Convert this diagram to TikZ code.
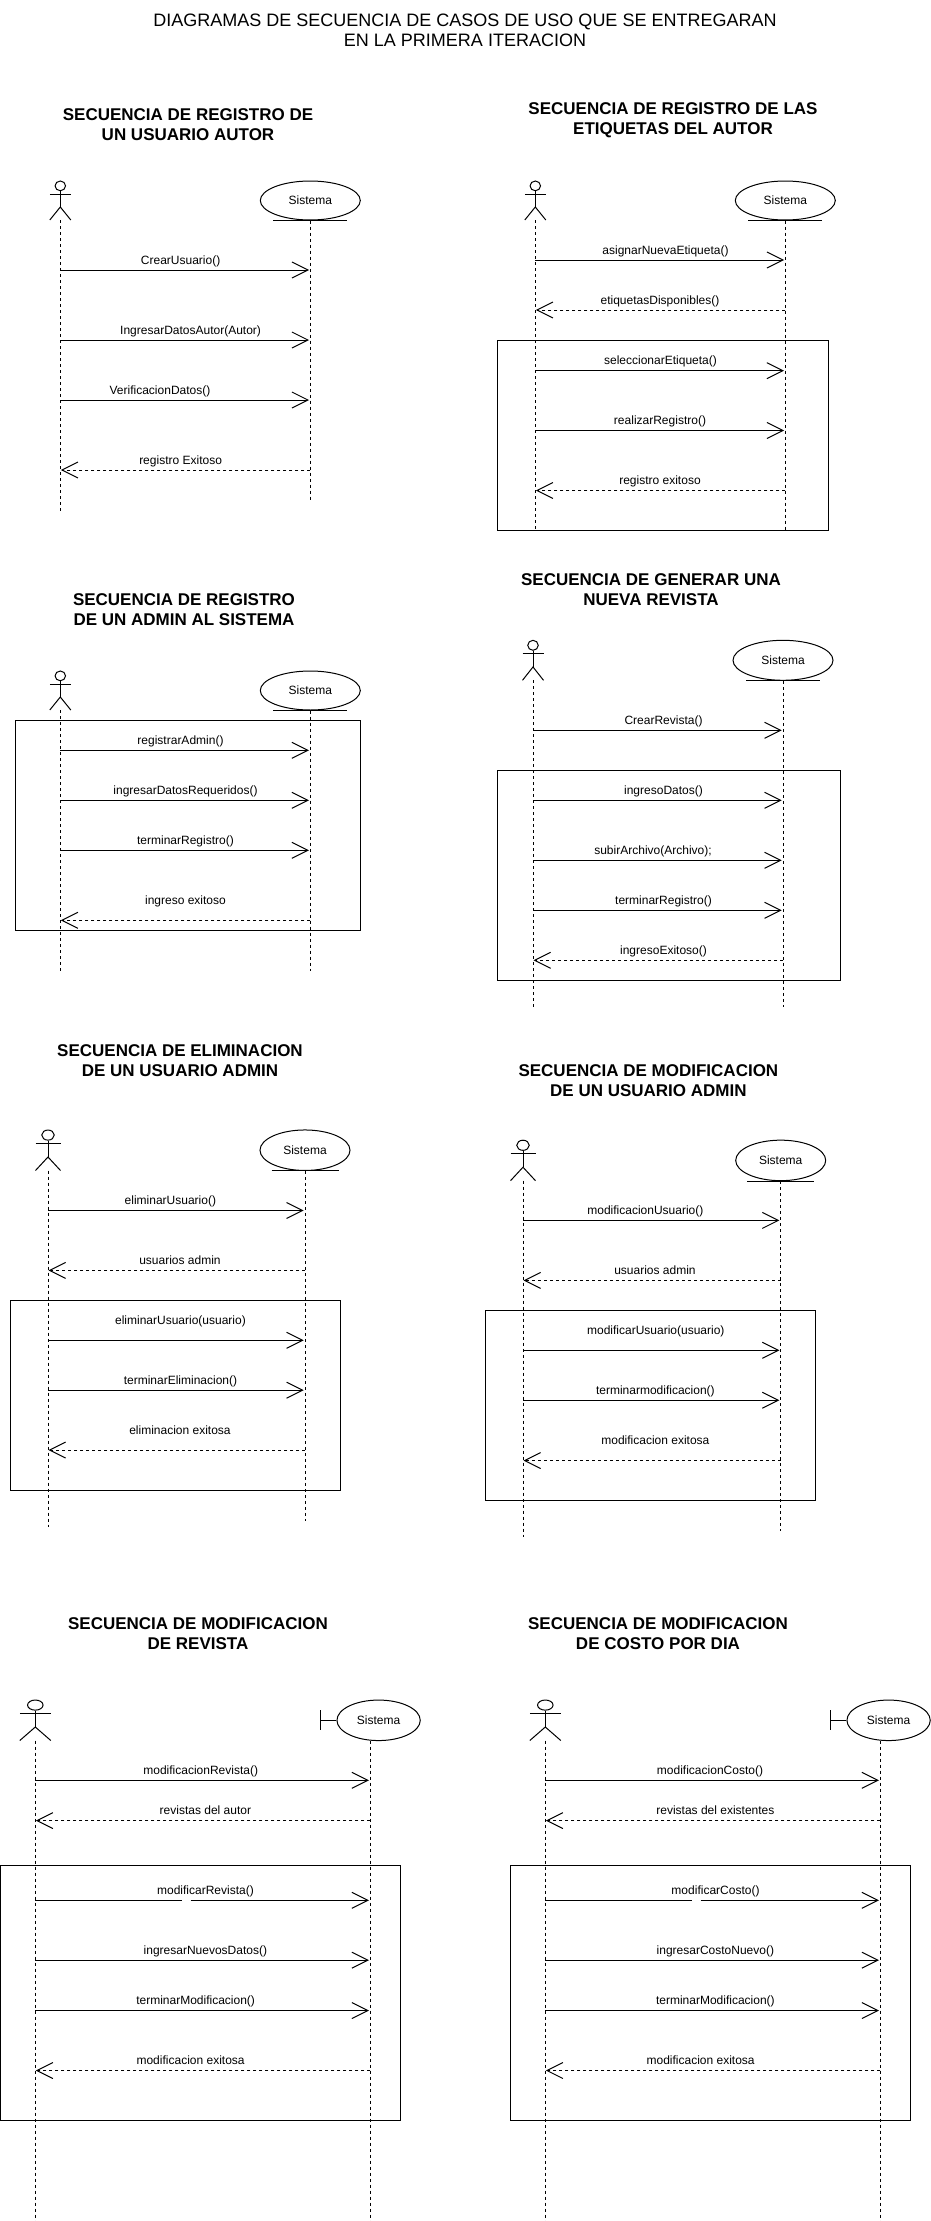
\documentclass[tikz,border=0pt]{standalone}
\usepackage{fontspec}
\setmainfont{Liberation Sans}
\usetikzlibrary{arrows.meta,shapes.geometric}

\tikzset{
    pagetitle/.style={align=center,inner sep=0pt,font=\fontsize{18}{20}\selectfont},
    seqtitle/.style={align=center,inner sep=0pt,font=\fontsize{17}{20}\selectfont\bfseries},
    msglabel/.style={inner sep=0pt,text height=9pt,text depth=3pt,yshift=-0.5pt,font=\fontsize{12}{14}\selectfont},
    sysnode/.style={draw,ellipse,inner sep=0pt,font=\fontsize{12}{14}\selectfont},
    lifeline/.style={dash pattern=on 3pt off 3pt},
    msgcall/.style={-{Straight Barb[length=16pt,width=16pt]},shorten >=1.3pt},
    msgback/.style={-{Straight Barb[length=16pt,width=16pt]},shorten >=0.5pt,dash pattern=on 3pt off 3pt},
    groupbox/.style={draw,line width=1pt}
}

% name, x, top, width, height
\newcommand{\actorfig}[5]{
    \node[draw,ellipse,inner sep=0pt,minimum width=#4*0.5pt,minimum height=#5*0.25pt] (#1head) at (#2,#3+#5/8) {};
    \coordinate (#1hip) at (#2,#3+#5*2/3);
    \coordinate (#1larm) at (#2-#4/2,#3+#5/3);
    \coordinate (#1rarm) at (#2+#4/2,#3+#5/3);
    \coordinate (#1lfoot) at (#2-#4/2,#3+#5);
    \coordinate (#1rfoot) at (#2+#4/2,#3+#5);
    \coordinate (#1foot) at (#2,#3+#5);
    \draw (#1head.south) -- (#1hip);
    \draw (#1larm) -- (#1rarm);
    \draw (#1lfoot) -- (#1hip) -- (#1rfoot);
}

\begin{document}
\begin{tikzpicture}[x=1pt,y=-1pt,line width=1pt]
    \useasboundingbox[fill=white] (0,0) rectangle (931,2221);

    % Page title
    \node[pagetitle] (pagehead) at (465,30) {DIAGRAMAS DE SECUENCIA DE CASOS DE USO QUE SE ENTREGARAN\\EN LA PRIMERA ITERACION};

    % Registro de un usuario autor
    \node[seqtitle] (t1) at (188,125) {SECUENCIA DE REGISTRO DE\\UN USUARIO AUTOR};
    \actorfig{a1}{60.3}{181}{21}{39}
    \node[sysnode,minimum width=100pt,minimum height=39pt] (s1) at (310.3,200.5) {Sistema};
    \draw ([xshift=-37pt]s1.south) -- ([xshift=37pt]s1.south);
    \coordinate (a1end) at (60.3,511);
    \coordinate (s1end) at (310.3,500);
    \draw[lifeline] (a1foot) -- (a1end);
    \draw[lifeline] (s1.south) -- (s1end);
    \coordinate (a11) at (60.3,270); \coordinate (s11) at (310.3,270);
    \draw[msgcall] (a11) -- (s11);
    \node[msglabel] (m11) at (180.6,261) {CrearUsuario()};
    \coordinate (a12) at (60.3,340); \coordinate (s12) at (310.3,340);
    \draw[msgcall] (a12) -- (s12);
    \node[msglabel] (m12) at (190.6,331) {IngresarDatosAutor(Autor)};
    \coordinate (a13) at (60.3,400); \coordinate (s13) at (310.3,400);
    \draw[msgcall] (a13) -- (s13);
    \node[msglabel] (m13) at (160,391) {VerificacionDatos()};
    \coordinate (a14) at (60.3,470); \coordinate (s14) at (310.3,470);
    \draw[msgback] (s14) -- (a14);
    \node[msglabel] (m14) at (180.6,461) {registro Exitoso};

    % Registro de las etiquetas del autor
    \node[seqtitle] (t2) at (673,120) {SECUENCIA DE REGISTRO DE LAS\\ETIQUETAS DEL AUTOR};
    \actorfig{a2}{535.3}{181}{21}{39}
    \node[sysnode,minimum width=100pt,minimum height=39pt] (s2) at (785.3,200.5) {Sistema};
    \draw ([xshift=-37pt]s2.south) -- ([xshift=37pt]s2.south);
    \node[groupbox,minimum width=330.3pt,minimum height=190pt] (g2) at (662.85,435.3) {};
    \coordinate (a2end) at (535.3,530);
    \coordinate (s2end) at (785.3,530);
    \draw[lifeline] (a2foot) -- (a2end);
    \draw[lifeline] (s2.south) -- (s2end);
    \coordinate (a21) at (535.3,260); \coordinate (s21) at (785.3,260);
    \draw[msgcall] (a21) -- (s21);
    \node[msglabel] (m21) at (665.5,251) {asignarNuevaEtiqueta()};
    \coordinate (a22) at (535.3,310); \coordinate (s22) at (785.3,310);
    \draw[msgback] (s22) -- (a22);
    \node[msglabel] (m22) at (660,301) {etiquetasDisponibles()};
    \coordinate (a23) at (535.3,370.7); \coordinate (s23) at (785.3,370.7);
    \draw[msgcall] (a23) -- (s23);
    \node[msglabel] (m23) at (660.5,361) {seleccionarEtiqueta()};
    \coordinate (a24) at (535.3,430.5); \coordinate (s24) at (785.3,430.5);
    \draw[msgcall] (a24) -- (s24);
    \node[msglabel] (m24) at (660,421) {realizarRegistro()};
    \coordinate (a25) at (535.3,490.5); \coordinate (s25) at (785.3,490.5);
    \draw[msgback] (s25) -- (a25);
    \node[msglabel] (m25) at (660,481) {registro exitoso};

    % Registro de un admin
    \node[seqtitle] (t3) at (184,610) {SECUENCIA DE REGISTRO\\DE UN ADMIN AL SISTEMA};
    \actorfig{a3}{60.3}{671}{21}{39}
    \node[sysnode,minimum width=100pt,minimum height=39pt] (s3) at (310.3,690.5) {Sistema};
    \draw ([xshift=-37pt]s3.south) -- ([xshift=37pt]s3.south);
    \node[groupbox,minimum width=345pt,minimum height=210pt] (g3) at (188,825.3) {};
    \coordinate (a3end) at (60.3,971);
    \coordinate (s3end) at (310.3,971);
    \draw[lifeline] (a3foot) -- (a3end);
    \draw[lifeline] (s3.south) -- (s3end);
    \coordinate (a31) at (60.3,750.3); \coordinate (s31) at (310.3,750.3);
    \draw[msgcall] (a31) -- (s31);
    \node[msglabel] (m31) at (180.5,741) {registrarAdmin()};
    \coordinate (a32) at (60.3,800.3); \coordinate (s32) at (310.3,800.3);
    \draw[msgcall] (a32) -- (s32);
    \node[msglabel] (m32) at (185.5,791) {ingresarDatosRequeridos()};
    \coordinate (a33) at (60.3,850.3); \coordinate (s33) at (310.3,850.3);
    \draw[msgcall] (a33) -- (s33);
    \node[msglabel] (m33) at (185.5,841) {terminarRegistro()};
    \coordinate (a34) at (60.3,920.3); \coordinate (s34) at (310.3,920.3);
    \draw[msgback] (s34) -- (a34);
    \node[msglabel] (m34) at (185.5,901) {ingreso exitoso};

    % Generar una nueva revista
    \node[seqtitle] (t4) at (651,590) {SECUENCIA DE GENERAR UNA\\NUEVA REVISTA};
    \actorfig{a4}{533}{640.3}{21}{40}
    \node[sysnode,minimum width=100pt,minimum height=40pt] (s4) at (783,660.3) {Sistema};
    \draw ([xshift=-37pt]s4.south) -- ([xshift=37pt]s4.south);
    \node[groupbox,minimum width=343pt,minimum height=210pt] (g4) at (669.2,875.2) {};
    \coordinate (a4end) at (533,1007);
    \coordinate (s4end) at (783,1007);
    \draw[lifeline] (a4foot) -- (a4end);
    \draw[lifeline] (s4.south) -- (s4end);
    \coordinate (a41) at (533,730.3); \coordinate (s41) at (783,730.3);
    \draw[msgcall] (a41) -- (s41);
    \node[msglabel] (m41) at (663.5,720.7) {CrearRevista()};
    \coordinate (a42) at (533,800.3); \coordinate (s42) at (783,800.3);
    \draw[msgcall] (a42) -- (s42);
    \node[msglabel] (m42) at (663.5,790.7) {ingresoDatos()};
    \coordinate (a43) at (533,860.3); \coordinate (s43) at (783,860.3);
    \draw[msgcall] (a43) -- (s43);
    \node[msglabel] (m43) at (653,850.7) {subirArchivo(Archivo);};
    \coordinate (a44) at (533,910.3); \coordinate (s44) at (783,910.3);
    \draw[msgcall] (a44) -- (s44);
    \node[msglabel] (m44) at (663.5,900.7) {terminarRegistro()};
    \coordinate (a45) at (533,960.3); \coordinate (s45) at (783,960.3);
    \draw[msgback] (s45) -- (a45);
    \node[msglabel] (m45) at (663.5,950.7) {ingresoExitoso()};

    % Eliminacion de un usuario admin
    \node[seqtitle] (t5) at (180,1060.3) {SECUENCIA DE ELIMINACION\\DE UN USUARIO ADMIN};
    \actorfig{a5}{48}{1130}{25}{40.5}
    \node[sysnode,minimum width=90pt,minimum height=40.5pt] (s5) at (305,1150.2) {Sistema};
    \draw ([xshift=-33.5pt]s5.south) -- ([xshift=33.5pt]s5.south);
    \node[groupbox,minimum width=330pt,minimum height=190pt] (g5) at (175.7,1395.3) {};
    \coordinate (a5end) at (48,1527);
    \coordinate (s5end) at (305,1521);
    \draw[lifeline] (a5foot) -- (a5end);
    \draw[lifeline] (s5.south) -- (s5end);
    \coordinate (a51) at (48,1210.5); \coordinate (s51) at (305,1210.5);
    \draw[msgcall] (a51) -- (s51);
    \node[msglabel] (m51) at (170.4,1201) {eliminarUsuario()};
    \coordinate (a52) at (48,1270.4); \coordinate (s52) at (305,1270.4);
    \draw[msgback] (s52) -- (a52);
    \node[msglabel] (m52) at (180,1260.7) {usuarios admin};
    \coordinate (a53) at (48,1340.3); \coordinate (s53) at (305,1340.3);
    \draw[msgcall] (a53) -- (s53);
    \node[msglabel] (m53) at (180.5,1321) {eliminarUsuario(usuario)};
    \coordinate (a54) at (48,1390.2); \coordinate (s54) at (305,1390.2);
    \draw[msgcall] (a54) -- (s54);
    \node[msglabel] (m54) at (180.5,1381) {terminarEliminacion()};
    \coordinate (a55) at (48,1450); \coordinate (s55) at (305,1450);
    \draw[msgback] (s55) -- (a55);
    \node[msglabel] (m55) at (180,1431) {eliminacion exitosa};

    % Modificacion de un usuario admin
    \node[seqtitle] (t6) at (648.4,1080.3) {SECUENCIA DE MODIFICACION\\DE UN USUARIO ADMIN};
    \actorfig{a6}{523}{1140.2}{25}{40.5}
    \node[sysnode,minimum width=90pt,minimum height=40.5pt] (s6) at (780.7,1160.4) {Sistema};
    \draw ([xshift=-33.5pt]s6.south) -- ([xshift=33.5pt]s6.south);
    \node[groupbox,minimum width=330pt,minimum height=190pt] (g6) at (650.3,1405.3) {};
    \coordinate (a6end) at (523,1537);
    \coordinate (s6end) at (780.7,1531);
    \draw[lifeline] (a6foot) -- (a6end);
    \draw[lifeline] (s6.south) -- (s6end);
    \coordinate (a61) at (523,1220.4); \coordinate (s61) at (780.7,1220.4);
    \draw[msgcall] (a61) -- (s61);
    \node[msglabel] (m61) at (645.4,1210.8) {modificacionUsuario()};
    \coordinate (a62) at (523,1280.4); \coordinate (s62) at (780.7,1280.4);
    \draw[msgback] (s62) -- (a62);
    \node[msglabel] (m62) at (655,1270.7) {usuarios admin};
    \coordinate (a63) at (523,1350.3); \coordinate (s63) at (780.7,1350.3);
    \draw[msgcall] (a63) -- (s63);
    \node[msglabel] (m63) at (655.8,1331) {modificarUsuario(usuario)};
    \coordinate (a64) at (523,1400.2); \coordinate (s64) at (780.7,1400.2);
    \draw[msgcall] (a64) -- (s64);
    \node[msglabel] (m64) at (655.4,1391) {terminarmodificacion()};
    \coordinate (a65) at (523,1460.5); \coordinate (s65) at (780.7,1460.5);
    \draw[msgback] (s65) -- (a65);
    \node[msglabel] (m65) at (655.4,1441) {modificacion exitosa};

    % Modificacion de revista
    \node[seqtitle] (t7) at (198,1634) {SECUENCIA DE MODIFICACION\\DE REVISTA};
    \actorfig{a7}{35.3}{1700}{31}{40.5}
    \node[sysnode,minimum width=83.3pt,minimum height=40.5pt] (s7) at (378.6,1720.3) {Sistema};
    \coordinate (b7top) at (320.6,1710);
    \coordinate (b7bot) at (320.6,1730);
    \coordinate (b7mid) at (320.6,1720.3);
    \draw (b7top) -- (b7bot);
    \draw (b7mid) -- (s7.west);
    \node[groupbox,minimum width=400pt,minimum height=255pt] (g7) at (200.7,1992.85) {};
    \coordinate (s7start) at (370.3,1740.5);
    \coordinate (a7end) at (35.3,2221);
    \coordinate (s7end) at (370.3,2221);
    \draw[lifeline] (a7foot) -- (a7end);
    \draw[lifeline] (s7start) -- (s7end);
    \coordinate (a71) at (35.3,1780.3); \coordinate (s71) at (370.3,1780.3);
    \draw[msgcall] (a71) -- (s71);
    \node[msglabel] (m71) at (200.7,1771) {modificacionRevista()};
    \coordinate (a72) at (35.3,1820.6); \coordinate (s72) at (370.3,1820.6);
    \draw[msgback] (s72) -- (a72);
    \node[msglabel] (m72) at (205.4,1811) {revistas del autor};
    % this call has a small break in its line
    \coordinate (a73) at (35.3,1900.3); \coordinate (s73) at (370.3,1900.3);
    \coordinate (c73) at (181.7,1900.3); \coordinate (d73) at (190.7,1900.3);
    \draw (a73) -- (c73);
    \draw[msgcall] (d73) -- (s73);
    \node[msglabel] (m73) at (205.5,1891) {modificarRevista()};
    \coordinate (a74) at (35.3,1960.2); \coordinate (s74) at (370.3,1960.2);
    \draw[msgcall] (a74) -- (s74);
    \node[msglabel] (m74) at (205.4,1951) {ingresarNuevosDatos()};
    \coordinate (a75) at (35.3,2010.5); \coordinate (s75) at (370.3,2010.5);
    \draw[msgcall] (a75) -- (s75);
    \node[msglabel] (m75) at (195.6,2001) {terminarModificacion()};
    \coordinate (a76) at (35.3,2070.5); \coordinate (s76) at (370.3,2070.5);
    \draw[msgback] (s76) -- (a76);
    \node[msglabel] (m76) at (190.6,2061) {modificacion exitosa};

    % Modificacion de costo por dia
    \node[seqtitle] (t8) at (658,1634) {SECUENCIA DE MODIFICACION\\DE COSTO POR DIA};
    \actorfig{a8}{545.3}{1700}{31}{40.5}
    \node[sysnode,minimum width=83.3pt,minimum height=40.5pt] (s8) at (888.6,1720.3) {Sistema};
    \coordinate (b8top) at (830.6,1710);
    \coordinate (b8bot) at (830.6,1730);
    \coordinate (b8mid) at (830.6,1720.3);
    \draw (b8top) -- (b8bot);
    \draw (b8mid) -- (s8.west);
    \node[groupbox,minimum width=400pt,minimum height=255pt] (g8) at (710.7,1992.85) {};
    \coordinate (s8start) at (880.3,1740.5);
    \coordinate (a8end) at (545.3,2221);
    \coordinate (s8end) at (880.3,2221);
    \draw[lifeline] (a8foot) -- (a8end);
    \draw[lifeline] (s8start) -- (s8end);
    \coordinate (a81) at (545.3,1780.3); \coordinate (s81) at (880.3,1780.3);
    \draw[msgcall] (a81) -- (s81);
    \node[msglabel] (m81) at (710,1771) {modificacionCosto()};
    \coordinate (a82) at (545.3,1820.6); \coordinate (s82) at (880.3,1820.6);
    \draw[msgback] (s82) -- (a82);
    \node[msglabel] (m82) at (715.4,1811) {revistas del existentes};
    % same small break here
    \coordinate (a83) at (545.3,1900.3); \coordinate (s83) at (880.3,1900.3);
    \coordinate (c83) at (691.7,1900.3); \coordinate (d83) at (700.7,1900.3);
    \draw (a83) -- (c83);
    \draw[msgcall] (d83) -- (s83);
    \node[msglabel] (m83) at (715.5,1891) {modificarCosto()};
    \coordinate (a84) at (545.3,1960.2); \coordinate (s84) at (880.3,1960.2);
    \draw[msgcall] (a84) -- (s84);
    \node[msglabel] (m84) at (715.4,1951) {ingresarCostoNuevo()};
    \coordinate (a85) at (545.3,2010.5); \coordinate (s85) at (880.3,2010.5);
    \draw[msgcall] (a85) -- (s85);
    \node[msglabel] (m85) at (715.4,2001) {terminarModificacion()};
    \coordinate (a86) at (545.3,2070.5); \coordinate (s86) at (880.3,2070.5);
    \draw[msgback] (s86) -- (a86);
    \node[msglabel] (m86) at (700.6,2061) {modificacion exitosa};
\end{tikzpicture}
\end{document}
